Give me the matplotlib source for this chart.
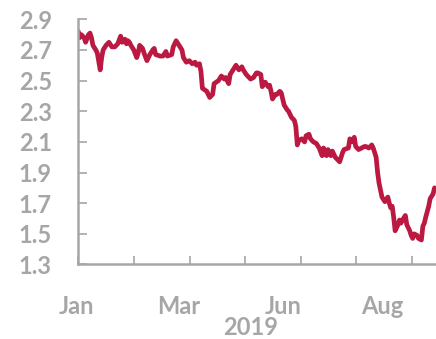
import numpy as np
import pandas as pd
import matplotlib
matplotlib.use("Agg")
import matplotlib.pyplot as plt
from matplotlib.ticker import FixedLocator, NullFormatter

# Daily yield (%), calendar days counted from 2 Jan 2019
day = [0, 1, 2, 4, 5, 7, 8, 9, 10, 12, 13, 15, 16, 17, 19, 21, 23, 25, 27, 29,
       30, 32, 33, 34, 35, 36, 38, 40, 41, 42, 44, 45, 47, 49, 51, 52, 53, 56, 58, 60,
       61, 64, 65, 67, 69, 71, 72, 74, 76, 78, 80, 81, 83, 84, 85, 88, 90, 92, 93, 96,
       98, 100, 101, 103, 104, 106, 108, 110, 112, 113, 115, 116, 118, 120, 122, 123, 125, 126, 128, 130,
       131, 132, 133, 135, 136, 138, 139, 141, 143, 144, 146, 148, 149, 150, 151, 153, 155, 156, 158, 159,
       161, 163, 165, 167, 168, 170, 171, 173, 174, 176, 178, 179, 181, 182, 185, 186, 188, 189, 190, 192,
       194, 196, 197, 199, 201, 202, 204, 205, 206, 208, 210, 212, 213, 214, 215, 216, 217, 219, 220, 221,
       222, 224, 225, 227, 228, 229, 230, 232, 233, 235, 236, 237, 238, 240, 241, 243, 244]

yield_pct = [2.82, 2.78, 2.80, 2.78, 2.75, 2.80, 2.81, 2.78, 2.73, 2.70, 2.68, 2.57, 2.65, 2.70, 2.73, 2.75, 2.72, 2.72, 2.74, 2.79,
             2.75, 2.77, 2.74, 2.76, 2.75, 2.73, 2.70, 2.65, 2.68, 2.73, 2.71, 2.68, 2.63, 2.67, 2.70, 2.71, 2.67, 2.66, 2.66, 2.69,
             2.66, 2.67, 2.72, 2.76, 2.73, 2.70, 2.65, 2.62, 2.63, 2.61, 2.62, 2.60, 2.61, 2.56, 2.45, 2.43, 2.39, 2.41, 2.48, 2.50,
             2.53, 2.51, 2.52, 2.48, 2.54, 2.57, 2.60, 2.57, 2.59, 2.57, 2.54, 2.53, 2.51, 2.52, 2.55, 2.55, 2.54, 2.46, 2.49, 2.46,
             2.47, 2.43, 2.38, 2.41, 2.41, 2.43, 2.42, 2.34, 2.31, 2.30, 2.26, 2.24, 2.20, 2.08, 2.11, 2.12, 2.10, 2.14, 2.15, 2.12,
             2.10, 2.09, 2.06, 2.01, 2.06, 2.01, 2.05, 2.01, 2.04, 2.00, 1.98, 1.97, 2.03, 2.05, 2.06, 2.12, 2.10, 2.13, 2.07, 2.05,
             2.06, 2.07, 2.07, 2.06, 2.08, 2.06, 2.00, 1.90, 1.83, 1.74, 1.71, 1.74, 1.70, 1.67, 1.68, 1.61, 1.52, 1.56, 1.59, 1.57,
             1.59, 1.62, 1.56, 1.52, 1.49, 1.47, 1.50, 1.49, 1.47, 1.46, 1.55, 1.57, 1.61, 1.68, 1.73, 1.76, 1.80]

month_labels = ["Jan", "Mar", "Jun", "Aug"]
year_label = "2019"
y_ticks = [1.3, 1.5, 1.7, 1.9, 2.1, 2.3, 2.5, 2.7, 2.9]

GRAY = "#A6A6A6"
LINE = "#BB1942"
FS = 17

plt.rcParams["font.family"] = ["Lato", "DejaVu Sans"]
plt.rcParams["font.weight"] = "bold"

fig = plt.figure(figsize=(4.36, 3.39), dpi=100)
ax = fig.add_axes([0.1796, 0.2198, 0.8204, 0.7233])

ax.plot(day, yield_pct, color=LINE, lw=3.4, solid_joinstyle="round", solid_capstyle="round")

ax.set_xlim(0, 245)
ax.set_ylim(1.3, 2.9)

for side in ("top", "right"):
    ax.spines[side].set_visible(False)
for side in ("left", "bottom"):
    ax.spines[side].set_color(GRAY)
    ax.spines[side].set_linewidth(1.8)

ax.set_yticks(y_ticks)
ax.set_yticklabels([f"{v:.1f}" for v in y_ticks])
ax.tick_params(axis="y", direction="in", length=6.5, width=1.2, color=GRAY,
               labelcolor=GRAY, labelsize=FS, pad=19)

# tick marks every 38 days; month names sit on their own positions
ax.xaxis.set_major_locator(FixedLocator(np.arange(0, 245, 38.1)))
ax.xaxis.set_major_formatter(NullFormatter())
ax.tick_params(axis="x", which="major", direction="in", length=6, width=1.2, color=GRAY)

month_pos = [-1, 69, 140, 208.5]
for name, pos in zip(month_labels, month_pos):
    ax.annotate(name, xy=(pos, 0), xycoords=("data", "axes fraction"),
                xytext=(0, -22), textcoords="offset points",
                ha="center", va="top", color=GRAY, fontsize=FS,
                fontweight="bold", annotation_clip=False)

ax.annotate(year_label, xy=(118, 0), xycoords=("data", "axes fraction"),
            xytext=(0, -37), textcoords="offset points",
            ha="center", va="top", color=GRAY, fontsize=FS,
            fontweight="bold", annotation_clip=False)

fig.savefig("out.png", dpi=100)
